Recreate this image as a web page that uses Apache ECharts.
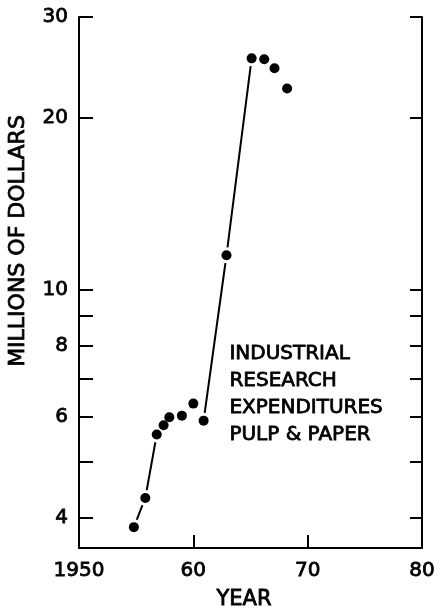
<!DOCTYPE html>
<html><head><meta charset="utf-8">
<script src="https://cdn.jsdelivr.net/npm/echarts@6/dist/echarts.min.js"></script>
<style>html,body{margin:0;padding:0;background:#fff}#c{width:447px;height:611px}</style>
</head><body><div id="c"></div>
<script>
const years = [1954.8, 1955.8, 1956.8, 1957.4, 1957.9, 1959.0, 1960.0, 1960.9, 1962.9, 1965.1, 1966.2, 1967.1, 1968.2];
const spending = [3.85, 4.33, 5.59, 5.80, 5.99, 6.03, 6.33, 5.91, 11.5, 25.4, 25.3, 24.4, 22.5];
const connectedRuns = [[0, 1], [1, 2], [7, 8, 9]];
const yTickValues = [4, 5, 6, 7, 8, 9, 10, 20, 30];
const yLabelValues = [4, 6, 8, 10, 20, 30];
const xTickValues = [1950, 1960, 1970, 1980];
const xLabels = ['1950', '60', '70', '80'];
const noteLines = ['INDUSTRIAL', 'RESEARCH', 'EXPENDITURES', 'PULP & PAPER'];
const yTitle = 'MILLIONS OF DOLLARS';
const xTitle = 'YEAR';

const FONT = 'DejaVu Sans';
const chart = echarts.init(document.getElementById('c'), null, {renderer: 'canvas'});
const pts = years.map((y, i) => [y, spending[i]]);

const lineSeries = connectedRuns.map(run => ({
  type: 'line', data: run.map(i => pts[i]), symbol: 'none', z: 2,
  lineStyle: {color: '#000', width: 2}, animation: false
}));

const yBase = {
  type: 'log', min: 3.54, max: 30, logBase: 10,
  axisLine: {show: true, lineStyle: {color: '#000', width: 2}},
  splitLine: {show: false}, minorTick: {show: false}
};
const labelInk = {color: '#000', fontFamily: FONT, fontSize: 20, textBorderColor: '#000', textBorderWidth: 0.8};

chart.setOption({
  animation: false,
  backgroundColor: '#fff',
  grid: {left: 79, right: 25, top: 17, bottom: 63, containLabel: false},
  xAxis: {
    type: 'value', min: 1950, max: 1980, interval: 10,
    axisLine: {lineStyle: {color: '#000', width: 2}},
    axisTick: {inside: true, length: 13, lineStyle: {color: '#000', width: 2}},
    splitLine: {show: false},
    axisLabel: Object.assign({}, labelInk, {
      margin: 13,
      formatter: v => xLabels[xTickValues.indexOf(Math.round(v))] || ''
    })
  },
  yAxis: [
    Object.assign({}, yBase, {
      position: 'left',
      axisTick: {inside: true, length: 14, customValues: yTickValues, lineStyle: {color: '#000', width: 2}},
      axisLabel: Object.assign({}, labelInk, {margin: 11, customValues: yLabelValues,
        formatter: v => String(Math.round(v))})
    }),
    Object.assign({}, yBase, {
      position: 'right',
      axisTick: {inside: true, length: 12, customValues: yTickValues, lineStyle: {color: '#000', width: 2}},
      axisLabel: {show: false}
    })
  ],
  series: lineSeries.concat([
    {type: 'scatter', data: pts, symbol: 'circle', symbolSize: 16, z: 3,
      itemStyle: {color: '#fff', opacity: 1}, silent: true},
    {type: 'scatter', data: pts, symbol: 'circle', symbolSize: 10, z: 4,
      itemStyle: {color: '#000', opacity: 1}}
  ]),
  graphic: [
    {type: 'text', left: 229, top: 340, z: 10,
      style: {text: noteLines.join('\n'), font: '20px "' + FONT + '"', fill: '#000', lineHeight: 27,
        stroke: '#000', lineWidth: 0.8}},
    {type: 'text', x: 18, y: 241, rotation: Math.PI / 2, z: 10,
      style: {text: yTitle, font: '22px "' + FONT + '"', fill: '#000', align: 'center', verticalAlign: 'middle',
        stroke: '#000', lineWidth: 0.8}},
    {type: 'text', x: 244, y: 600, z: 10,
      style: {text: xTitle, font: '21px "' + FONT + '"', fill: '#000', align: 'center', verticalAlign: 'middle',
        stroke: '#000', lineWidth: 0.8}}
  ]
});
</script></body></html>
